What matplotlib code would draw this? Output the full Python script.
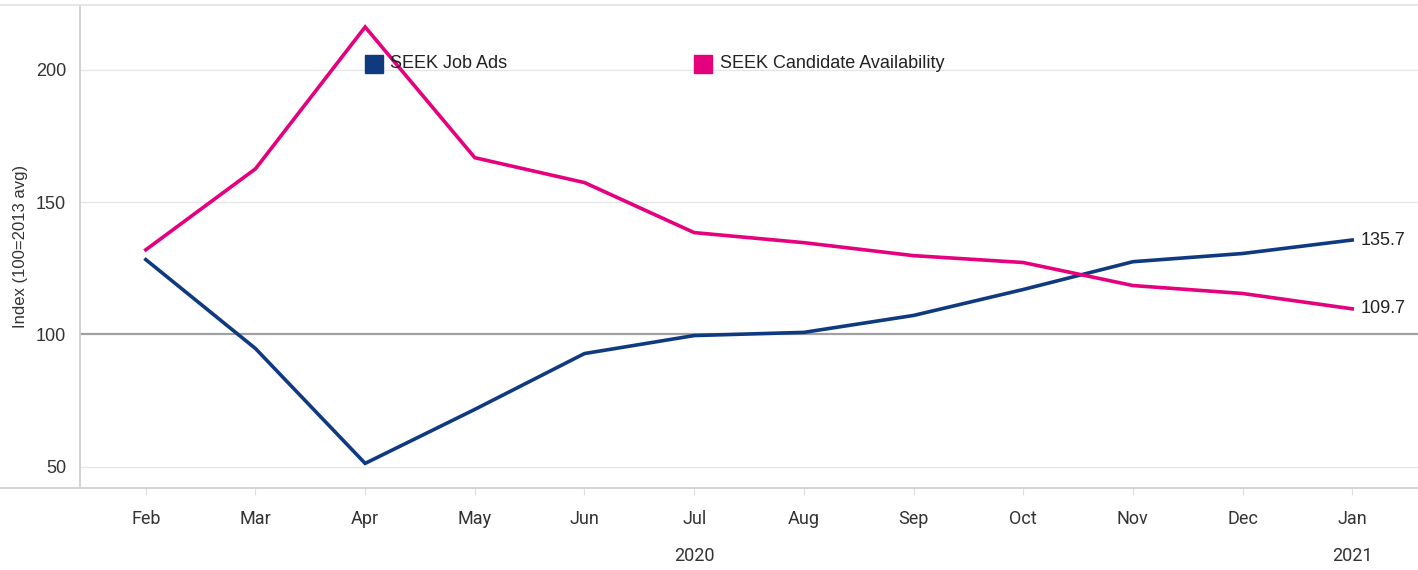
import matplotlib.pyplot as plt
from matplotlib.lines import Line2D

months = ["Feb", "Mar", "Apr", "May", "Jun", "Jul", "Aug", "Sep", "Oct", "Nov", "Dec", "Jan"]
job_ads = [128.3, 94.7, 51.3, 71.7, 92.8, 99.6, 100.8, 107.2, 117.0, 127.5, 130.6, 135.7]
candidates = [132.0, 162.6, 216.2, 166.8, 157.4, 138.5, 134.7, 129.8, 127.2, 118.5, 115.5, 109.7]
years = [(5, "2020"), (11, "2021")]
yticks = [50, 100, 150, 200]

blue = "#0f3a80"
pink = "#e5007d"
plt.rcParams['font.family'] = ['Liberation Sans', 'DejaVu Sans']

fig = plt.figure(figsize=(14.18, 5.7), dpi=100)
ax = fig.add_axes([80 / 1418, 82 / 570, 1 - 80 / 1418, 483 / 570])

x = list(range(len(months)))
ax.plot(x, job_ads, color=blue, lw=2.6, solid_joinstyle='miter', zorder=3)
ax.plot(x, candidates, color=pink, lw=2.6, solid_joinstyle='miter', zorder=3)

ax.set_xlim(-0.6, 11.6)
ax.set_ylim(42, 224.5)

ax.set_yticks(yticks)
ax.set_yticklabels([str(v) for v in yticks], fontsize=13, color="#333333")
for v in yticks:
    if v == 100:
        ax.axhline(v, color="#a0a0a0", lw=1.6, zorder=1)
    else:
        ax.axhline(v, color="#e6e6e6", lw=1.0, zorder=1)
ax.tick_params(axis='y', length=0, pad=10)

ax.set_xticks(x)
ax.set_xticklabels(months, fontsize=13, color="#333333", family=['Roboto', 'DejaVu Sans'])
ax.tick_params(axis='x', length=5, color="#e0e0e0", pad=11)

for i, yr in years:
    ax.annotate(yr, xy=(i, 0), xycoords=('data', 'axes fraction'), xytext=(0, -49),
                textcoords='offset points', ha='center', va='center', fontsize=13,
                color="#333333", family=['Roboto', 'DejaVu Sans'])

for s in ['top', 'right', 'bottom']:
    ax.spines[s].set_visible(False)
ax.spines['left'].set_color("#cccccc")
ax.spines['left'].set_linewidth(1.2)

# frame lines spanning the whole width
fig.add_artist(Line2D([0, 1], [82 / 570, 82 / 570], color="#cccccc", lw=1.2))
fig.add_artist(Line2D([0, 1], [565 / 570, 565 / 570], color="#e0e0e0", lw=1.2))

ax.set_ylabel("Index (100=2013 avg)", fontsize=12, color="#333333", labelpad=6)

# end labels
ax.annotate(f"{job_ads[-1]:.1f}", xy=(x[-1], job_ads[-1]), xytext=(6, 0),
            textcoords='offset points', va='center', fontsize=13, color="#222222")
ax.annotate(f"{candidates[-1]:.1f}", xy=(x[-1], candidates[-1]), xytext=(6, 0),
            textcoords='offset points', va='center', fontsize=13, color="#222222")

# legend
ly = 0.878
ax.plot([0.2197], [ly], marker='s', ms=13, color=blue, transform=ax.transAxes, zorder=4)
ax.text(0.2318, ly, "SEEK Job Ads", transform=ax.transAxes, va='center', fontsize=13,
        color="#222222", zorder=4)
ax.plot([0.4656], [ly], marker='s', ms=13, color=pink, transform=ax.transAxes, zorder=4)
ax.text(0.4785, ly, "SEEK Candidate Availability", transform=ax.transAxes, va='center',
        fontsize=13, color="#222222", zorder=4)

fig.savefig("out.png", dpi=100)
